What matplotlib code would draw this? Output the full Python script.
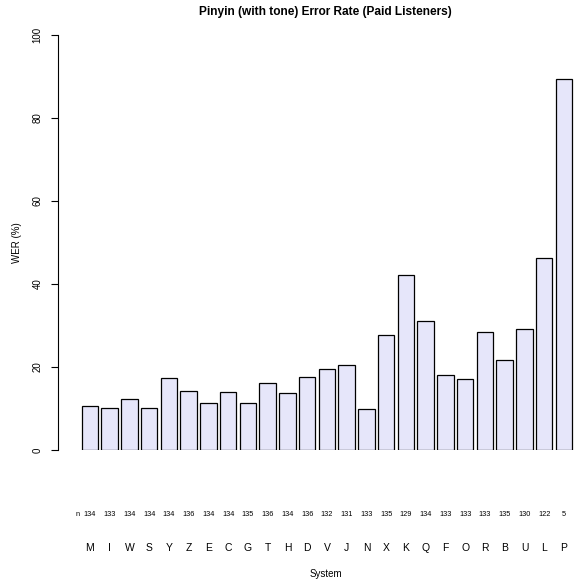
import matplotlib
matplotlib.use("Agg")
import matplotlib.pyplot as plt
from matplotlib.transforms import blended_transform_factory
import numpy as np

plt.rcParams['font.family'] = ['Liberation Sans', 'DejaVu Sans']

systems = ["M", "I", "W", "S", "Y", "Z", "E", "C", "G", "T", "H", "D", "V",
           "J", "N", "X", "K", "Q", "F", "O", "R", "B", "U", "L", "P"]
wer = [10.6, 10.2, 12.4, 10.1, 17.3, 14.1, 11.4, 14.0, 11.3, 16.1, 13.7, 17.7, 19.5,
       20.6, 9.8, 27.8, 42.2, 31.2, 18.0, 17.2, 28.4, 21.6, 29.1, 46.2, 89.4]
counts = [134, 133, 134, 134, 134, 136, 134, 134, 135, 136, 134, 136, 132,
          131, 133, 135, 129, 134, 133, 133, 133, 135, 130, 122, 5]
yticks = [0, 20, 40, 60, 80, 100]

W, H = 574, 583
fig = plt.figure(figsize=(W / 100, H / 100), dpi=100)

def fx(px):
    return px / W

def fy(py):
    return 1 - py / H

left, right, top, bottom = 58, 574, 35, 450
ax = fig.add_axes([fx(left), fy(bottom), fx(right) - fx(left), fy(top) - fy(bottom)])

x = 0.2 + np.arange(len(systems)) * 1.2 + 0.5
ax.bar(x, wer, width=1.0, color="#E6E6FA", edgecolor="black", linewidth=0.9)
ax.set_xlim(-1.24, 30.11)
ax.set_ylim(0, 100)

for s in ["top", "right", "bottom"]:
    ax.spines[s].set_visible(False)
ax.spines["left"].set_linewidth(0.8)
ax.set_xticks([])
ax.set_yticks(yticks)
ax.set_yticklabels([str(v) for v in yticks], rotation=90, va="center", fontsize=7)
ax.tick_params(axis="y", length=5, width=0.8, pad=6)

ax.set_ylabel("WER (%)", fontsize=7, labelpad=8)

trans = blended_transform_factory(ax.transData, fig.transFigure)
for xi, s, c in zip(x, systems, counts):
    ax.text(xi, fy(548), s, transform=trans, ha="center", va="center", fontsize=7.5)
    ax.text(xi, fy(515), str(c), transform=trans, ha="center", va="center", fontsize=5.3)
ax.text(x[0] - 0.6, fy(515), "n", transform=trans, ha="right", va="center", fontsize=5.3)

fig.text(fx(326), fy(574), "System", ha="center", va="center", fontsize=7)
fig.text(fx(325), fy(12), "Pinyin (with tone) Error Rate (Paid Listeners)",
         ha="center", va="center", fontsize=8.6, fontweight="bold")

fig.savefig("out.png", dpi=100)
